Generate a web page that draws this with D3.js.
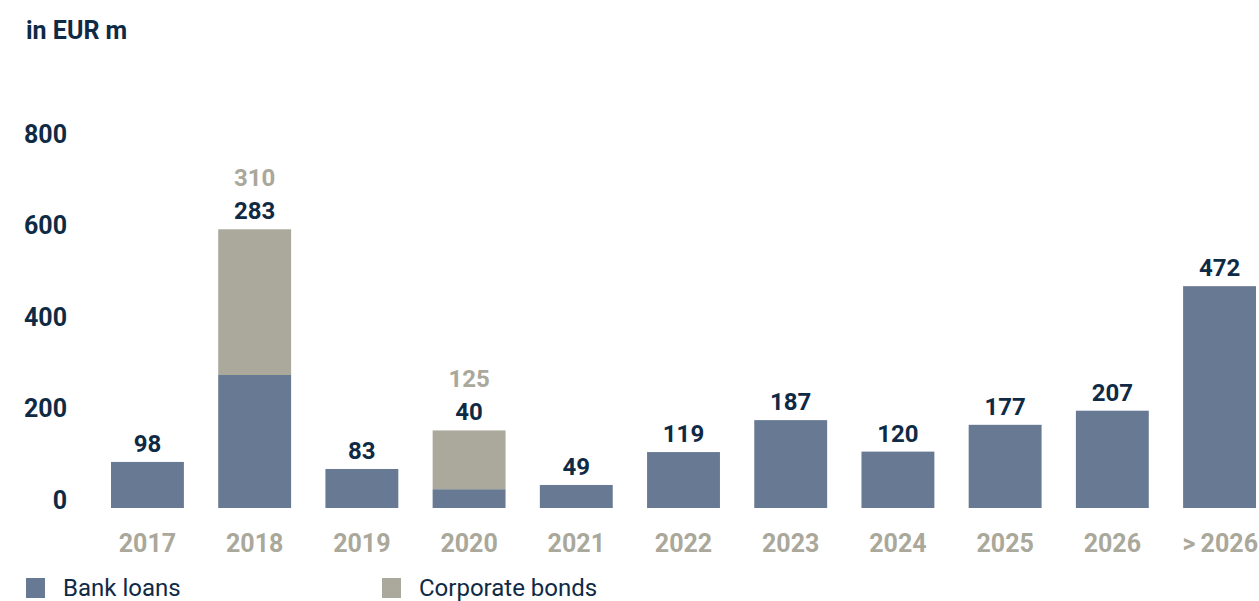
<!DOCTYPE html>
<html>
<head>
<meta charset="utf-8">
<script src="https://cdn.jsdelivr.net/npm/d3@7"></script>
<style>
  html, body { margin: 0; padding: 0; background: #fff; }
  #chart { width: 1259px; height: 601px; }
  text { font-family: Roboto, "Liberation Sans", sans-serif; }
</style>
</head>
<body>
<div id="chart"></div>
<script>
const years = ["2017", "2018", "2019", "2020", "2021", "2022", "2023", "2024", "2025", "2026", ">\u20092026"];
const bankLoans = [98, 283, 83, 40, 49, 119, 187, 120, 177, 207, 472];
const corporateBonds = [0, 310, 0, 125, 0, 0, 0, 0, 0, 0, 0];
const yTicks = [0, 200, 400, 600, 800];
const seriesNames = ["Bank loans", "Corporate bonds"];

const Colors = {
    BANK: "#687a93",
    BOND: "#aba99b",
    NAVY: "#0f2a45",
    GREY: "#aaa79b"
};

const Chart = (() => {
    const container = document.querySelector("#chart");
    const width = 1259;
    const height = 601;
    const svg = d3.select(container)
        .append("svg")
        .attr("width", width)
        .attr("height", height)
        .attr("viewBox", [0, 0, width, height]);

    const data = years.map((year, i) => ({
        year,
        bank: bankLoans[i],
        bond: corporateBonds[i]
    }));

    const x = d3.scaleBand()
        .domain(years)
        .range([111, 1256])
        .paddingInner(0.32)
        .paddingOuter(0);

    const y = d3.scaleLinear()
        .domain([0, 800])
        .range([508, 132]);

    // tick labels sit a little above the bar baseline in the original
    const yLabels = y.copy().range([508 - 9, 132 + 1]);

    // title
    svg.append("text")
        .attr("x", 26)
        .attr("y", 39)
        .attr("fill", Colors.NAVY)
        .attr("font-weight", "bold")
        .attr("font-size", 25)
        .text("in EUR m");

    // y axis labels
    svg.append("g")
        .attr("transform", "translate(67,0)")
        .call(d3.axisLeft(yLabels).tickValues(yTicks).tickSize(0).tickPadding(0))
        .call(g => g.select(".domain").remove())
        .call(g => g.selectAll("text")
            .attr("fill", Colors.NAVY)
            .attr("font-weight", "bold")
            .attr("font-size", 25)
            .attr("font-family", null)
            .attr("dy", "0.36em"));

    // x axis labels
    svg.append("g")
        .attr("transform", "translate(0,508)")
        .call(d3.axisBottom(x).tickSize(0).tickPadding(0))
        .call(g => g.select(".domain").remove())
        .call(g => g.selectAll("text")
            .attr("fill", Colors.GREY)
            .attr("font-weight", "bold")
            .attr("font-size", 25)
            .attr("font-family", null)
            .attr("dy", null)
            .attr("y", 44))
        .call(g => g.selectAll(".tick:last-of-type text")
            .attr("text-anchor", "end")
            .attr("x", x.bandwidth() / 2 + 2));

    // bank loan bars
    svg.append("g")
        .selectAll("rect")
        .data(data)
        .join("rect")
            .attr("fill", Colors.BANK)
            .attr("x", d => x(d.year))
            .attr("width", x.bandwidth())
            .attr("y", d => y(d.bank))
            .attr("height", d => y(0) - y(d.bank));

    // corporate bond bars stacked on top
    svg.append("g")
        .selectAll("rect")
        .data(data.filter(d => d.bond > 0))
        .join("rect")
            .attr("fill", Colors.BOND)
            .attr("x", d => x(d.year))
            .attr("width", x.bandwidth())
            .attr("y", d => y(d.bank + d.bond))
            .attr("height", d => y(d.bank) - y(d.bank + d.bond));

    // value labels
    const labels = svg.append("g")
        .attr("text-anchor", "middle")
        .attr("font-weight", "bold")
        .attr("font-size", 24);

    labels.selectAll("text.bank")
        .data(data)
        .join("text")
            .attr("class", "bank")
            .attr("fill", Colors.NAVY)
            .attr("x", d => x(d.year) + x.bandwidth() / 2)
            .attr("y", d => y(d.bank + d.bond) - 10)
            .text(d => d.bank);

    labels.selectAll("text.bond")
        .data(data.filter(d => d.bond > 0))
        .join("text")
            .attr("class", "bond")
            .attr("fill", Colors.GREY)
            .attr("x", d => x(d.year) + x.bandwidth() / 2)
            .attr("y", d => y(d.bank + d.bond) - 43)
            .text(d => d.bond);

    // legend
    const legend = svg.append("g")
        .selectAll("g")
        .data(seriesNames)
        .join("g")
            .attr("transform", (d, i) => `translate(${26 + i * 356},578)`);

    legend.append("rect")
        .attr("width", 19)
        .attr("height", 20)
        .attr("fill", (d, i) => i === 0 ? Colors.BANK : Colors.BOND);

    legend.append("text")
        .attr("x", 37)
        .attr("y", 18)
        .attr("fill", Colors.NAVY)
        .attr("font-size", 24)
        .text(d => d);
})();
</script>
</body>
</html>
